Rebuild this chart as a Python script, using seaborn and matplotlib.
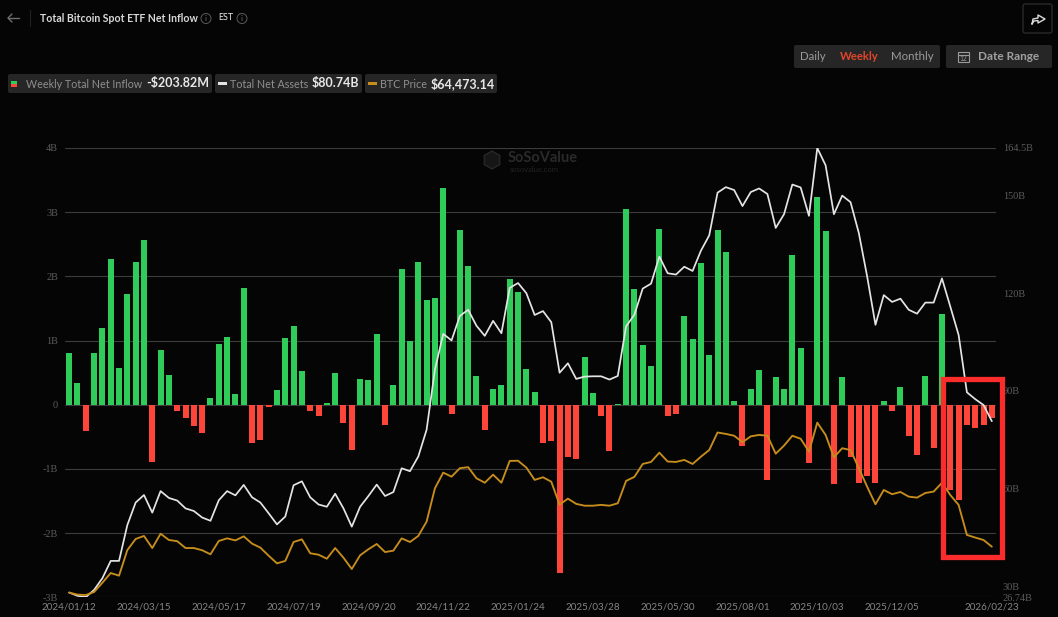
import numpy as np
import pandas as pd
import matplotlib
matplotlib.use('Agg')
import matplotlib.pyplot as plt
from matplotlib.patches import FancyBboxPatch, Rectangle, Circle, RegularPolygon
import seaborn as sns

# weekly net inflow, billions USD
inflow = [0.81, 0.34, -0.41, 0.81, 1.19, 2.27, 0.58, 1.72, 2.23, 2.56,
          -0.89, 0.85, 0.47, -0.09, -0.21, -0.33, -0.44, 0.11, 0.94, 1.05,
          0.16, 1.82, -0.59, -0.55, -0.04, 0.23, 1.04, 1.23, 0.53, -0.09,
          -0.18, 0.03, 0.50, -0.28, -0.71, 0.40, 0.39, 1.10, -0.31, 0.30,
          2.12, 0.99, 2.22, 1.63, 1.66, 3.38, -0.15, 2.73, 2.16, 0.45,
          -0.40, 0.24, 0.30, 1.96, 1.75, 0.55, 0.20, -0.59, -0.56, -2.62,
          -0.81, -0.85, 0.74, 0.19, -0.18, -0.72, 0.015, 3.05, 1.80, 0.93,
          0.60, 2.74, -0.17, -0.14, 1.39, 1.02, 2.21, 0.77, 2.72, 2.38,
          0.06, -0.645, 0.24, 0.54, -1.17, 0.44, 0.24, 2.34, 0.88, -0.90,
          3.23, 2.71, -1.23, 0.44, -0.81, -1.22, -1.11, -1.22, 0.06, -0.09,
          0.28, -0.49, -0.78, 0.45, -0.68, 1.41, -1.33, -1.48, -0.32, -0.36,
          -0.32, -0.204]

# total net assets, billions USD
net_assets = [28.2, 27.2, 26.8, 29.0, 32.6, 37.9, 37.9, 48.9, 55.8, 58.1,
              52.7, 59.3, 57.2, 56.4, 54.0, 53.2, 51.2, 50.2, 56.5, 59.3,
              58.0, 61.2, 57.4, 55.8, 52.5, 49.1, 51.5, 61.1, 62.3, 57.4,
              55.2, 54.5, 58.5, 54.0, 48.4, 54.5, 57.8, 61.3, 57.8, 59.0,
              66.3, 65.4, 69.9, 78.1, 96.5, 107.5, 105.5, 113.0, 114.9, 110.0,
              106.9, 111.5, 107.7, 121.6, 123.1, 120.0, 113.3, 114.5, 111.1, 95.6,
              98.5, 93.7, 94.4, 94.5, 94.5, 93.5, 94.6, 109.8, 113.4, 121.4,
              122.9, 131.2, 126.1, 125.7, 128.1, 126.8, 133.0, 137.7, 150.8, 152.5,
              151.6, 146.7, 151.0, 152.1, 150.4, 140.0, 144.2, 153.3, 152.4, 143.7,
              164.5, 159.2, 144.2, 149.9, 147.9, 138.4, 125.1, 110.3, 119.4, 117.3,
              118.3, 114.9, 113.7, 117.1, 117.1, 124.5, 115.9, 107.2, 89.6, 87.5,
              85.7, 80.74]

# BTC price, thousands USD
btc_price = [41.7, 40.7, 40.5, 42.0, 46.6, 51.4, 50.1, 62.8, 68.3, 69.8,
             63.8, 70.9, 67.8, 67.2, 63.8, 63.8, 62.7, 60.7, 67.3, 68.6,
             67.6, 69.6, 66.0, 64.0, 60.0, 56.2, 57.4, 66.8, 68.1, 61.2,
             60.5, 58.5, 63.8, 59.0, 53.4, 60.2, 63.2, 65.8, 61.8, 62.5,
             68.6, 66.8, 69.8, 76.9, 93.4, 101.2, 99.2, 103.4, 103.9, 98.4,
             96.2, 100.2, 96.2, 107.0, 107.1, 103.7, 97.6, 98.9, 96.7, 85.3,
             88.3, 85.7, 84.8, 84.8, 85.2, 84.8, 86.0, 97.1, 99.1, 105.5,
             106.5, 111.1, 106.7, 106.5, 107.5, 105.5, 109.1, 112.4, 121.1, 120.4,
             119.5, 116.3, 119.2, 119.9, 119.5, 110.6, 114.6, 119.5, 118.0, 111.6,
             126.0, 119.9, 108.8, 113.3, 112.4, 103.4, 94.2, 85.5, 92.6, 90.5,
             91.6, 89.3, 88.8, 91.1, 91.8, 96.2, 90.1, 85.2, 70.3, 69.0,
             67.8, 64.47]

date_ticks = [0, 9, 18, 27, 36, 45, 54, 63, 72, 81, 90, 99, 111]
date_labels = ['2024/01/12', '2024/03/15', '2024/05/17', '2024/07/19', '2024/09/20',
               '2024/11/22', '2025/01/24', '2025/03/28', '2025/05/30', '2025/08/01',
               '2025/10/03', '2025/12/05', '2026/02/23']
left_ticks = [-3, -2, -1, 0, 1, 2, 3, 4]
left_labels = ['-3B', '-2B', '-1B', '0', '1B', '2B', '3B', '4B']
right_ticks = [26.74, 30, 60, 90, 120, 150, 164.5]
right_labels = ['26.74B', '30B', '60B', '90B', '120B', '150B', '164.5B']

BG = '#050505'
GREEN = '#2fcc5a'
RED = '#fd4539'
WHITE = '#e4e4e4'
ORANGE = '#c68d1c'
CHIP = '#262626'
GRAY = '#8f8f8f'

sns.set_theme(style='dark')
plt.rcParams['font.family'] = ['Lato', 'DejaVu Sans']

W, H = 1058, 617
fig = plt.figure(figsize=(W / 100, H / 100), dpi=100, facecolor=BG)
ax = fig.add_axes([65 / W, 1 - 597.3 / H, 931 / W, 449.3 / H], facecolor=BG)

df = pd.DataFrame({'week': np.arange(len(inflow)), 'inflow': inflow,
                   'assets': net_assets, 'btc': btc_price})
df['side'] = np.where(df['inflow'] >= 0, 'in', 'out')

sns.barplot(data=df, x='week', y='inflow', hue='side', palette={'in': GREEN, 'out': RED},
            dodge=False, width=0.72, saturation=1, linewidth=0, legend=False, ax=ax)
ax.set_xlim(-0.5, 111.5)
ax.set_ylim(-3, 4)
ax.set_xticks(date_ticks, date_labels)
ax.set_yticks(left_ticks, left_labels, family='Liberation Serif')
ax.set_axisbelow(True)
ax.grid(axis='y', color='#3c3c3c', lw=0.8)
ax.grid(axis='x', visible=False)
ax.set_xlabel('')
ax.set_ylabel('')
ax.tick_params(axis='x', length=0, pad=3.5, labelsize=7.1, labelcolor='#858585')
ax.tick_params(axis='y', length=0, pad=5, labelsize=7.4, labelcolor='#5c5c5c')
sns.despine(ax=ax, left=True, bottom=True)

# net assets has its own visible scale on the right
ax_assets = ax.twinx()
sns.lineplot(data=df, x='week', y='assets', color=WHITE, lw=1.25, ax=ax_assets)
ax_assets.set_ylim(26.74, 164.5)
ax_assets.set_yticks(right_ticks, right_labels, family='Liberation Serif')
ax_assets.tick_params(axis='y', length=0, pad=5, labelsize=7.4, labelcolor='#5c5c5c')
ax_assets.set_ylabel('')
ax_assets.grid(False)
sns.despine(ax=ax_assets, left=True, bottom=True, right=True)

# btc price scale is hidden
ax_btc = ax.twinx()
sns.lineplot(data=df, x='week', y='btc', color=ORANGE, lw=1.35, ax=ax_btc)
ax_btc.set_ylim(39.37, 262.2)
ax_btc.set_ylabel('')
ax_btc.set_yticks([])
ax_btc.grid(False)
sns.despine(ax=ax_btc, left=True, bottom=True, right=True)
ax.set_xlim(-0.5, 111.5)

# page furniture, drawn in pixel coordinates
ui = fig.add_axes([0, 0, 1, 1], zorder=10)
ui.set_xlim(0, W)
ui.set_ylim(H, 0)
ui.axis('off')


def chip(x0, y0, x1, y1, face=CHIP, edge='none'):
    ui.add_patch(FancyBboxPatch((x0 + 2, y0 + 2), x1 - x0 - 4, y1 - y0 - 4,
                                boxstyle='round,pad=2', fc=face, ec=edge, lw=1))


def label(x, y, s, color=GRAY, size=9.5, weight='normal', ha='left'):
    ui.text(x, y, s, color=color, fontsize=size, fontweight=weight, ha=ha, va='center')


def info_icon(x, y):
    ui.add_patch(Circle((x, y), 5, fc='none', ec='#5a5a5a', lw=0.7))
    ui.text(x, y, 'i', color='#6a6a6a', fontsize=6, ha='center', va='center')


# title row
ui.plot([8, 19], [18, 18], color='#6e6e6e', lw=1)
ui.plot([12, 8, 12], [14, 18, 22], color='#6e6e6e', lw=1)
ui.plot([30, 30], [10, 26], color='#222222', lw=0.8)
label(40, 18, 'Total Bitcoin Spot ETF Net Inflow', color='#d8d8d8', size=7.6, weight='bold')
info_icon(206, 18.5)
label(218, 17.5, 'EST', color='#e8e8e8', size=6.4)
info_icon(242, 18.5)

# share button
chip(1023, 4, 1052, 33, face=BG, edge='#2a2a2a')
ui.plot([1032, 1033, 1038, 1038, 1045, 1038, 1038, 1034, 1032],
        [24, 19, 18, 15, 19, 23, 20.5, 21, 24], color='#dddddd', lw=1)

# period and date buttons
chip(794, 45, 940, 68)
label(813, 57, 'Daily', ha='center', size=8.3, color='#9a9a9a')
label(859, 57, 'Weekly', ha='center', size=8.1, weight='bold', color='#e0452a')
label(912, 57, 'Monthly', ha='center', size=8.3, color='#9a9a9a')
chip(946, 45, 1052, 68)
ui.add_patch(Rectangle((958, 52), 11, 10, fc='none', ec='#9a9a9a', lw=0.8))
ui.plot([958, 969], [54.5, 54.5], color='#9a9a9a', lw=0.8)
ui.text(963.5, 58.5, '12', color='#9a9a9a', fontsize=4.8, ha='center', va='center')
label(978, 57, 'Date Range', size=8.5, weight='bold', color='#a0a0a0')

# legend chips
chip(8, 74, 212, 93)
ui.add_patch(Rectangle((11, 81), 6, 3, fc=GREEN, ec='none'))
ui.add_patch(Rectangle((11, 84), 6, 3, fc=RED, ec='none'))
label(26, 84, 'Weekly Total Net Inflow', size=7.75)
label(146, 83.5, '-$203.82M', color='#e8e8e8', size=9, weight='bold')
chip(215, 74, 362, 93)
ui.add_patch(Rectangle((218, 82), 9, 3, fc=WHITE, ec='none'))
label(230, 84, 'Total Net Assets', size=7.75)
label(312, 83.5, '$80.74B', color='#e8e8e8', size=9, weight='bold')
chip(365, 74, 497, 93)
ui.add_patch(Rectangle((368, 82), 9, 3, fc=ORANGE, ec='none'))
label(380, 84, 'BTC Price', size=7.75)
label(431, 83.5, '$64,473.14', color='#e8e8e8', size=9, weight='bold')

# watermark
ui.add_patch(RegularPolygon((492, 160), 6, radius=9, fc='#161616', ec='#2a2a2a', lw=0.9))
label(508, 158, 'SoSoValue', color='#2a2a2a', size=10.5, weight='bold')
label(510, 169, 'sosovalue.com', color='#222222', size=5.5)

# red highlight box around the last weeks
ui.add_patch(Rectangle((942.7, 379.4), 59.6, 177.2, fc='none', ec='#fb2c2c', lw=3.8))

fig.savefig('out.png', dpi=100, facecolor=BG)
print('saved out.png')
